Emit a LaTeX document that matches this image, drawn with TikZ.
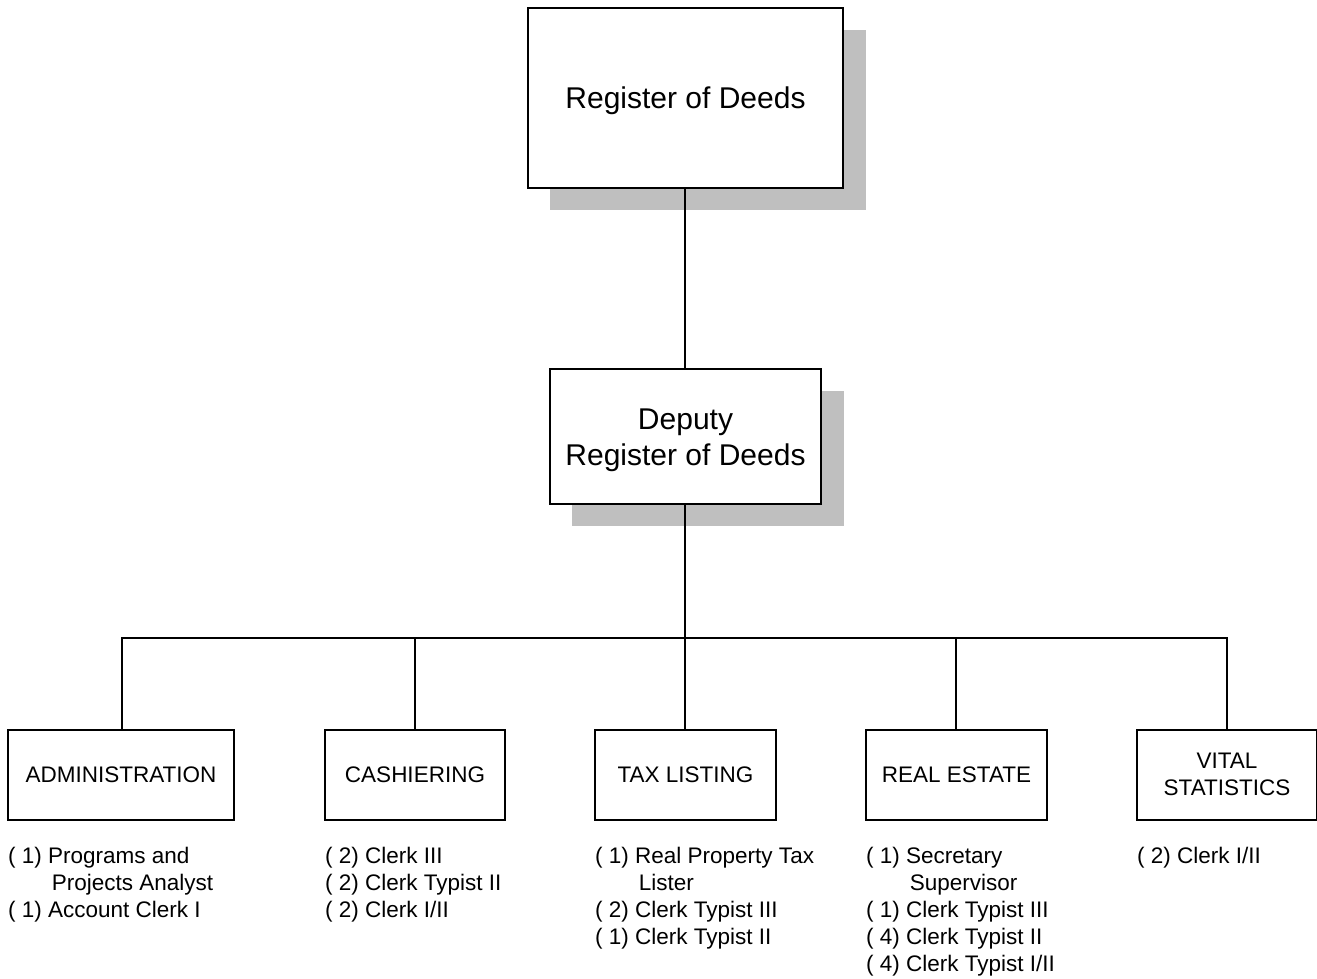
\documentclass[tikz,border=0pt]{standalone}
\usepackage{fontspec}
\setmainfont{Liberation Sans}
\begin{document}
\begin{tikzpicture}[x=1pt,y=-1pt,
  shadowbox/.style={fill=black!25,draw=none},
  mainbox/.style={draw=black,line width=1.3pt,fill=white},
  conn/.style={draw=black,line width=1.3pt},
  toptext/.style={font=\fontsize{30}{36}\selectfont,align=center},
  deptext/.style={font=\fontsize{22.5}{27}\selectfont,align=center},
  listtext/.style={font=\fontsize{22.5}{27}\selectfont,align=left,anchor=north west,inner sep=0pt}]
\useasboundingbox (0,0) rectangle (1317,979);
\fill[white] (0,0) rectangle (1317,979);
% shadows
\fill[shadowbox] (550,30) rectangle (866,210);
\fill[shadowbox] (572,391) rectangle (844,526);
% top boxes
\draw[mainbox] (528,8) rectangle (843,188);
\node[toptext] (reg) at (685.5,101) {Register of Deeds};
\draw[mainbox] (550,369) rectangle (821,504);
\node[toptext] (dep) at (685.5,440) {Deputy\\Register of Deeds};
\coordinate (regS) at (685,188);
\coordinate (depN) at (685,369);
\coordinate (depS) at (685,504);
\coordinate (bus) at (685,638);
% department boxes
\draw[mainbox] (8,730) rectangle (234,820);
\node[deptext] (adm) at (121,775) {ADMINISTRATION};
\draw[mainbox] (325,730) rectangle (505,820);
\node[deptext] (cas) at (415,775) {CASHIERING};
\draw[mainbox] (595,730) rectangle (776,820);
\node[deptext] (tax) at (685.5,775) {TAX LISTING};
\draw[mainbox] (866,730) rectangle (1047,820);
\node[deptext] (rea) at (956.5,775) {REAL ESTATE};
\draw[mainbox] (1137,730) rectangle (1317,820);
\node[deptext] (vit) at (1227,774) {VITAL\\STATISTICS};
\coordinate (admN) at (122,730);
\coordinate (casN) at (415,730);
\coordinate (taxN) at (685,730);
\coordinate (reaN) at (956,730);
\coordinate (vitN) at (1227,730);
% connectors
\draw[conn] (regS) -- (depN);
\draw[conn] (depS) -- (bus);
\draw[conn] (admN) |- (bus) -| (vitN);
\draw[conn] (casN) -- (casN |- bus);
\draw[conn] (taxN) -- (bus);
\draw[conn] (reaN) -- (reaN |- bus);
% lists
\node[listtext] (admL) at (8,847) {( 1) Programs and\\\hphantom{( 1) }\,Projects Analyst\\( 1) Account Clerk I};
\node[listtext] (casL) at (325,847) {( 2) Clerk III\\( 2) Clerk Typist II\\( 2) Clerk I/II};
\node[listtext] (taxL) at (595,847) {( 1) Real Property Tax\\\hphantom{( 1) }\,Lister\\( 2) Clerk Typist III\\( 1) Clerk Typist II};
\node[listtext] (reaL) at (866,847) {( 1) Secretary\\\hphantom{( 1) }\,Supervisor\\( 1) Clerk Typist III\\( 4) Clerk Typist II\\( 4) Clerk Typist I/II};
\node[listtext] (vitL) at (1137,847) {( 2) Clerk I/II};
\end{tikzpicture}
\end{document}
